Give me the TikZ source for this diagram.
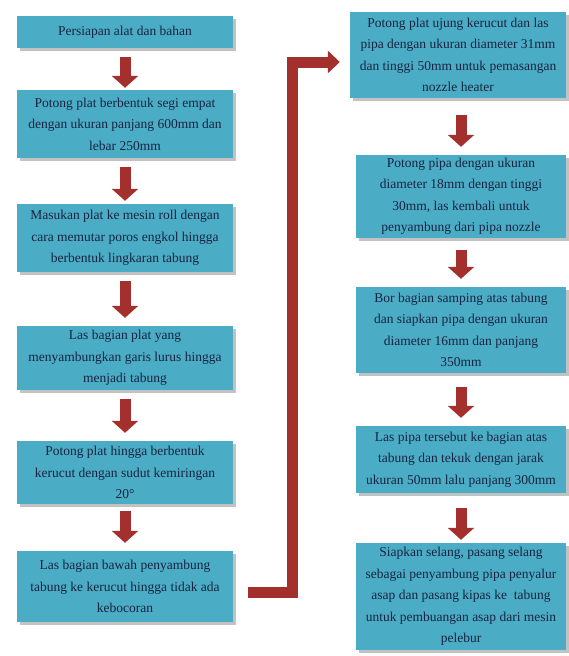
\documentclass[tikz,border=0pt]{standalone}
\usepackage{fontspec}
\setmainfont{Liberation Serif}
\usetikzlibrary{arrows.meta,shadows}
\definecolor{boxblue}{HTML}{4BACC6}
\definecolor{arrowred}{HTML}{A3302D}
\definecolor{textnavy}{HTML}{18233F}
\tikzset{
  stepbox/.style={rectangle, fill=boxblue, text=textnavy, align=center, inner sep=2pt,
    font=\fontsize{13.5}{21.5}\selectfont,
    drop shadow={shadow xshift=2.5pt, shadow yshift=-2.5pt, fill=black!40, opacity=.6}},
  leftbox/.style={stepbox, minimum width=216pt},
  rightbox/.style={stepbox, minimum width=210pt},
  downarrow/.style={arrowred, line width=11pt, -{Triangle[width=26pt,length=12pt]}},
  elbowarrow/.style={arrowred, line width=11pt, line join=miter, -{Triangle[width=22pt,length=12pt]}}
}
\begin{document}
\begin{tikzpicture}[x=1pt, y=-1pt]
      \useasboundingbox (0,0) rectangle (568,656);
      \draw
        (125,32) node[leftbox, minimum height=32pt] (1){Persiapan alat dan bahan}
        (125,124) node[leftbox, minimum height=68pt] (2){Potong plat berbentuk segi empat\\dengan ukuran panjang 600mm dan\\lebar 250mm}
        (125,238) node[leftbox, minimum height=68pt] (3){Masukan plat ke mesin roll dengan\\cara memutar poros engkol hingga\\berbentuk lingkaran tabung}
        (125,358) node[leftbox, minimum height=64pt] (4){Las bagian plat yang\\menyambungkan garis lurus hingga\\menjadi tabung}
        (125,472.5) node[leftbox, minimum height=63pt] (5){Potong plat hingga berbentuk\\kerucut dengan sudut kemiringan\\20°}
        (125,586.5) node[leftbox, minimum height=71pt] (6){Las bagian bawah penyambung\\tabung ke kerucut hingga tidak ada\\kebocoran}
        (458,55) node[leftbox, minimum height=86pt] (7){Potong plat ujung kerucut dan las\\pipa dengan ukuran diameter 31mm\\dan tinggi 50mm untuk pemasangan\\nozzle heater}
        (461,196.5) node[rightbox, minimum height=83pt] (8){Potong pipa dengan ukuran\\diameter 18mm dengan tinggi\\30mm, las kembali untuk\\penyambung dari pipa nozzle}
        (461,330) node[rightbox, minimum height=86pt] (9){Bor bagian samping atas tabung\\dan siapkan pipa dengan ukuran\\diameter 16mm dan panjang\\350mm}
        (461,459.5) node[rightbox, minimum height=67pt] (10){Las pipa tersebut ke bagian atas\\tabung dan tekuk dengan jarak\\ukuran 50mm lalu panjang 300mm}
        (461,596.5) node[rightbox, minimum height=107pt] (11){Siapkan selang, pasang selang\\sebagai penyambung pipa penyalur\\asap dan pasang kipas ke\ \ tabung\\untuk pembuangan asap dari mesin\\pelebur};
      \begin{scope}[downarrow]
        \draw ([yshift=-9pt]1.south) to ([yshift=2pt]2.north);
        \draw ([yshift=-9pt]2.south) to ([yshift=3pt]3.north);
        \draw ([yshift=-9pt]3.south) to ([yshift=8pt]4.north);
        \draw ([yshift=-9pt]4.south) to ([yshift=8pt]5.north);
        \draw ([yshift=-7pt]5.south) to ([yshift=8pt]6.north);
        \draw ([yshift=-17pt]7.south -| 8.north) to ([yshift=8pt]8.north);
        \draw ([yshift=-12pt]8.south) to ([yshift=8pt]9.north);
        \draw ([yshift=-14pt]9.south) to ([yshift=8pt]10.north);
        \draw ([yshift=-15pt]10.south) to ([yshift=3pt]11.north);
      \end{scope}
      \draw[elbowarrow] ([xshift=15pt,yshift=-6pt]6.east) -| ([xshift=-57pt,yshift=-7pt]7.west) -- ([xshift=-10pt,yshift=-7pt]7.west);
    \end{tikzpicture}
\end{document}
